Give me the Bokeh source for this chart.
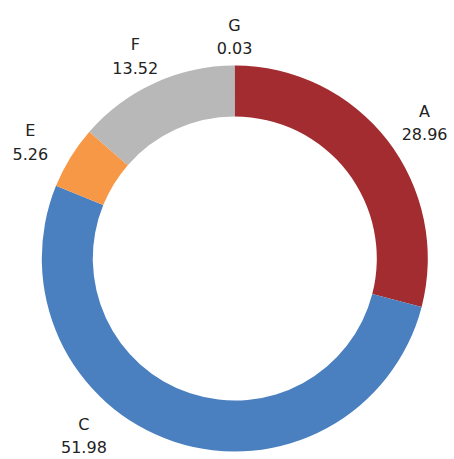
import math
from bokeh.plotting import figure
from bokeh.models import Range1d, ColumnDataSource
from bokeh.core.properties import value
from bokeh.embed import file_html
from bokeh.resources import INLINE

labels = ["A", "C", "E", "F", "G"]
values = [28.96, 51.98, 5.26, 13.52, 0.03]
colors = ["#a22c2f", "#4a80bf", "#f79847", "#b8b8b8", "#7f7f7f"]

W, H = 454, 459
cx, cy = 234.3, H - 258.0
r_out, r_in = 193.0, 142.0
rx_lab, ry_lab = 240.0, 222.0   # label ellipse (boxes pushed outward)
y_min_lab = H - 435.0           # lowest allowed label centre

total = sum(values)
starts, ends = [], []
acc = 0.0
for v in values:
    t0 = acc / total * 2 * math.pi
    acc += v
    t1 = acc / total * 2 * math.pi
    starts.append(math.pi / 2 - t0)
    ends.append(math.pi / 2 - t1)

lx, ly = [], []
for s, e in zip(starts, ends):
    th = math.pi / 2 - (s + e) / 2  # clockwise from top
    sx, sy = math.sin(th), math.cos(th)
    x = cx + rx_lab * sx
    y = cy + ry_lab * sy
    if y < y_min_lab:
        c = (cy - y_min_lab) / ry_lab
        sn = math.sqrt(max(1 - c * c, 0))
        x = cx + (rx_lab + 10) * (sn if sx >= 0 else -sn)
        y = y_min_lab
    lx.append(x)
    ly.append(y)

src = ColumnDataSource(dict(
    start=starts, end=ends, color=colors, label=labels,
    val=[f"{v:.2f}" for v in values], lx=lx, ly=ly,
    ly1=[y + 11.5 for y in ly], ly2=[y - 11.5 for y in ly],
))

p = figure(width=W, height=H, output_backend="svg", toolbar_location=None,
           x_range=Range1d(0, W), y_range=Range1d(0, H), min_border=0,
           outline_line_color=None)
p.axis.visible = False
p.grid.visible = False

p.annular_wedge(x=cx, y=cy, inner_radius=r_in, outer_radius=r_out,
                start_angle="start", end_angle="end", direction="clock",
                fill_color="color", line_color=None, source=src)

common = dict(text_font=value("DejaVu Sans"), text_font_size="16px",
              text_color="#222222", text_align="center", text_baseline="middle",
              source=src)
p.text(x="lx", y="ly1", text="label", **common)
p.text(x="lx", y="ly2", text="val", **common)

open("out.html", "w").write(file_html(p, INLINE))
